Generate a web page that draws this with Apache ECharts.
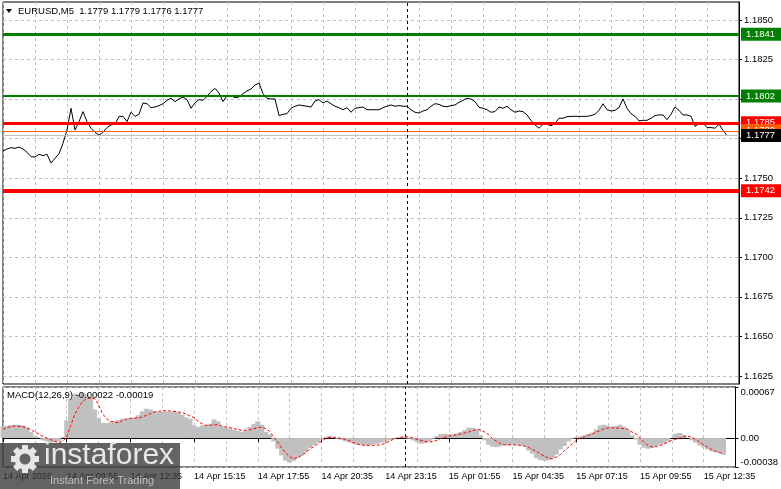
<!DOCTYPE html>
<html><head><meta charset="utf-8">
<script src="https://cdn.jsdelivr.net/npm/echarts@6/dist/echarts.min.js"></script>
<style>html,body{margin:0;padding:0;background:#fff}#c{width:781px;height:489px}</style>
</head><body><div id="c"></div>
<script>
// ---------- data ----------
const startTime = '2026-04-14T07:15:00';
const stepMinutes = 10;
const totalSlots = 185;            // visible slots incl. empty right margin
const daySeparatorTime = '2026-04-15T00:00:00';
const titleText = 'EURUSD,M5  1.1779 1.1779 1.1776 1.1777';
const macdTitleText = 'MACD(12,26,9) -0.00022 -0.00019';

const xTickLabels = ['14 Apr 2026','14 Apr 09:55','14 Apr 12:35','14 Apr 15:15','14 Apr 17:55','14 Apr 20:35',
  '14 Apr 23:15','15 Apr 01:55','15 Apr 04:35','15 Apr 07:15','15 Apr 09:55','15 Apr 12:35'];

const priceTicks = [1.1625,1.1650,1.1675,1.1700,1.1725,1.1750,1.1775,1.1800,1.1825,1.1850];
const priceMin = 1.16199, priceMax = 1.18614;

const closePrice = [
1.17672,1.17685,1.17693,1.17689,1.17697,1.17685,1.17664,1.17636,1.17634,1.17651,
1.17643,1.17651,1.17596,1.17626,1.17655,1.17721,1.17805,1.17942,1.17805,1.17858,
1.17921,1.17858,1.17816,1.17790,1.17773,1.17790,1.17820,1.17837,1.17841,1.17891,
1.17891,1.17858,1.17917,1.17891,1.17904,1.17976,1.17971,1.17946,1.17950,1.17959,
1.17971,1.17992,1.18005,1.17984,1.18001,1.18013,1.17997,1.17942,1.17976,1.17997,
1.17992,1.18018,1.18047,1.18068,1.18039,1.17984,1.18022,1.18022,1.18009,1.18013,
1.18035,1.18052,1.18064,1.18089,1.18102,1.18035,1.18005,1.18001,1.18001,1.17896,
1.17904,1.17908,1.17942,1.17955,1.17963,1.17959,1.17955,1.17950,1.17988,1.17997,
1.17976,1.17988,1.17971,1.17955,1.17946,1.17933,1.17946,1.17917,1.17942,1.17946,
1.17950,1.17933,1.17933,1.17933,1.17933,1.17946,1.17955,1.17963,1.17955,1.17959,
1.17955,1.17955,1.17933,1.17917,1.17912,1.17925,1.17933,1.17955,1.17971,1.17967,
1.17955,1.17952,1.17959,1.17963,1.17980,1.17992,1.18005,1.18001,1.17984,1.17948,
1.17942,1.17933,1.17917,1.17921,1.17950,1.17942,1.17955,1.17933,1.17917,1.17925,
1.17921,1.17900,1.17866,1.17837,1.17816,1.17841,1.17841,1.17832,1.17845,1.17879,
1.17879,1.17889,1.17891,1.17891,1.17891,1.17891,1.17891,1.17896,1.17904,1.17929,
1.17971,1.17933,1.17925,1.17929,1.17946,1.18001,1.17942,1.17908,1.17891,1.17862,
1.17866,1.17866,1.17879,1.17896,1.17900,1.17900,1.17870,1.17904,1.17950,1.17929,
1.17900,1.17900,1.17891,1.17828,1.17845,1.17849,1.17820,1.17820,1.17816,1.17841,
1.17803,1.17770];

// MACD values in units of 0.00001
const macdHistE5 = [
14.9,16.2,17.1,17.5,17.1,16.6,14.0,7.9,2.6,0.9,
-3.1,-4.4,-6.1,-5.3,-4.4,1.3,23.2,51.6,58.2,56.9,
59.5,58.2,53.8,37.6,26.3,19.7,19.7,20.6,21.9,23.6,
25.4,25.4,26.3,26.7,29.8,35.0,38.5,37.6,35.4,34.1,
34.6,35.0,34.1,35.0,33.7,30.6,27.1,25.4,16.6,14.4,
16.6,16.6,18.8,24.5,21.9,15.3,13.6,12.3,10.5,9.2,
7.9,9.6,14.4,18.4,21.9,17.5,7.9,4.4,-4.4,-14.0,
-22.8,-29.8,-32.4,-29.8,-26.3,-22.8,-18.4,-13.1,-9.6,-6.1,
-1.8,1.3,2.6,1.3,-0.9,-2.6,-4.4,-5.7,-7.0,-8.8,
-8.8,-9.6,-9.2,-8.3,-7.4,-6.1,-4.4,-3.1,-0.9,0,
0.9,1.3,-0.9,-3.1,-5.3,-7.4,-6.6,-4.4,-0.9,2.6,
5.3,5.7,4.8,4.8,6.1,7.9,10.5,13.6,13.1,11.4,
3.5,-3.1,-8.8,-11.4,-11.8,-10.5,-9.6,-9.6,-8.8,-8.8,
-9.6,-10.5,-16.2,-20.6,-26.3,-28.9,-29.8,-29.3,-26.3,-21.9,
-14.9,-10.5,-4.4,-0.9,1.3,2.2,3.5,5.3,7.0,11.4,
16.6,17.5,15.8,14.4,15.8,17.5,14.9,10.1,3.5,-1.8,
-8.8,-12.7,-14.0,-13.1,-10.1,-8.8,-7.4,-4.4,0,5.7,
6.6,4.4,0,-3.1,-6.1,-9.6,-12.3,-14.9,-17.5,-18.4,
-19.3,-21.9];
const macdSignalE5 = [
11.4,13.6,14.9,15.8,15.3,14.9,13.1,10.9,7.9,5.3,
2.2,0,-2.2,-4.4,-6.1,-4.4,1.3,16.6,30.6,40.3,
48.1,51.6,52.5,51.6,43.8,31.9,25.4,21.9,21.0,20.1,
22.8,24.9,25.8,26.3,26.3,27.6,29.8,31.9,34.1,35.0,
35.9,35.9,35.4,35.0,34.1,33.3,31.5,28.9,26.7,21.9,
18.8,16.6,16.6,17.5,17.5,15.8,14.4,13.6,12.3,11.4,
10.1,10.1,10.9,12.3,13.6,14.4,12.3,8.8,1.3,-5.3,
-13.1,-19.3,-24.5,-27.1,-25.8,-22.8,-19.3,-14.9,-11.4,-7.9,
-3.9,-0.9,0.9,1.3,0.4,-0.4,-1.8,-3.5,-6.1,-7.9,
-9.2,-9.6,-9.6,-9.6,-9.2,-8.8,-7.0,-4.4,-1.8,0,
1.3,1.8,1.3,0,-1.8,-3.1,-4.4,-5.3,-4.4,-3.1,
-0.4,1.3,2.6,3.5,4.4,5.3,6.6,7.9,9.6,11.4,
10.5,7.9,4.4,-0.9,-4.4,-7.4,-8.8,-8.8,-8.8,-9.2,
-9.6,-10.5,-12.3,-14.9,-17.5,-21.0,-23.6,-26.3,-27.1,-25.0,
-21.9,-16.6,-12.3,-7.4,-3.1,0,1.8,3.5,5.3,7.9,
9.6,12.3,13.1,13.6,13.1,13.1,12.3,11.4,7.9,5.3,
0,-5.3,-9.6,-11.8,-10.9,-10.1,-7.9,-5.3,-3.1,-1.8,
0,1.8,2.6,0.9,-1.8,-5.3,-8.8,-11.8,-14.9,-17.5,
-19.3,-19.7];
const macdTicksE5 = [-38, 0, 67];
const macdMinE5 = -38, macdMaxE5 = 67;

const levelValues = [1.1841, 1.1802, 1.1785, 1.1780, 1.1742];
const bidValue = 1.1777;

// ---------- styles ----------
const FONT = '"Liberation Sans",Arial,sans-serif';
const FS = 9.5;
const levelStyles = [
  {color:'#008000', width:3},
  {color:'#008000', width:2},
  {color:'#ff0000', width:3},
  {color:'#ff5a00', width:1},
  {color:'#ff0000', width:4}
];
const GRID_COLOR = '#c0c0c0';

// ---------- build ----------
const MON = ['Jan','Feb','Mar','Apr','May','Jun','Jul','Aug','Sep','Oct','Nov','Dec'];
const t0 = new Date(startTime).getTime();
const pad = n => (n < 10 ? '0' : '') + n;
const categories = [];
for (let i = 0; i < totalSlots; i++) {
  const d = new Date(t0 + i * stepMinutes * 60000);
  categories.push(d.getDate() + ' ' + MON[d.getMonth()] + ' ' + pad(d.getHours()) + ':' + pad(d.getMinutes()));
}
const sepIndex = (new Date(daySeparatorTime).getTime() - t0) / (stepMinutes * 60000);
const macdHist = macdHistE5.map(v => v / 1e5);
const macdSignal = macdSignalE5.map(v => v / 1e5);

const boxLabel = (bg) => ({
  show: true, position: 'end', distance: 2,
  formatter: p => Number(p.value).toFixed(4),
  color: '#fff', backgroundColor: bg, padding: [2, 2, 1, 5], width: 33,
  fontSize: FS, lineHeight: 10, fontFamily: FONT
});

const levelMarks = levelValues.map((v, k) => ({
  yAxis: v,
  lineStyle: {color: levelStyles[k].color, width: levelStyles[k].width, type: 'solid'},
  label: boxLabel(levelStyles[k].color)
}));
levelMarks.push({yAxis: bidValue, lineStyle: {color: '#c0c0c0', width: 1, type: 'solid'}, label: boxLabel('#000')});

const sepMark = {xAxis: sepIndex, lineStyle: {color: '#000', width: 1, type: [3, 3]}, label: {show: false}};

const axisFont = {fontSize: FS, fontFamily: FONT, color: '#000'};

const chart = echarts.init(document.getElementById('c'), null, {renderer: 'canvas'});

// watermark gear teeth
const gearCx = 25, gearCy = 459;
const teeth = [];
for (let k = 0; k < 8; k++) {
  teeth.push({
    type: 'rect', shape: {x: gearCx - 3, y: gearCy - 14, width: 6, height: 6},
    originX: gearCx, originY: gearCy, rotation: k * Math.PI / 4, style: {fill: '#e6e6e6'}, z: 101
  });
}

chart.setOption({
  animation: false,
  backgroundColor: '#fff',
  grid: [
    {left: 3, top: 2, width: 736, height: 382, show: true, borderColor: '#000', borderWidth: 1, containLabel: false},
    {left: 3, top: 387, width: 736, height: 80, show: true, borderColor: '#000', borderWidth: 1, containLabel: false}
  ],
  xAxis: [
    {type: 'category', gridIndex: 0, data: categories, boundaryGap: false,
     axisLine: {show: false}, axisTick: {show: false}, axisLabel: {show: false},
     splitLine: {show: true, interval: 7, lineStyle: {color: GRID_COLOR, type: [3, 3], width: 1}}},
    {type: 'category', gridIndex: 1, data: categories, boundaryGap: false,
     axisLine: {show: true, lineStyle: {color: '#000'}},
     axisTick: {show: true, interval: 15, length: 4, lineStyle: {color: '#000'}},
     axisLabel: Object.assign({interval: 15, align: 'left', margin: 5, fontSize: 9,
       formatter: (v, idx) => (idx % 16 === 0 ? xTickLabels[idx / 16] || '' : '')}, {fontFamily: FONT, color: '#000'}),
     splitLine: {show: true, interval: 7, lineStyle: {color: GRID_COLOR, type: [3, 3], width: 1}}}
  ],
  yAxis: [
    {type: 'value', gridIndex: 0, position: 'right', min: priceMin, max: priceMax, scale: true,
     axisLine: {show: true, lineStyle: {color: '#000'}},
     axisTick: {show: true, length: 3, customValues: priceTicks, lineStyle: {color: '#000'}},
     axisLabel: Object.assign({customValues: priceTicks, margin: 5, formatter: v => v.toFixed(4)}, axisFont),
     splitLine: {show: true, lineStyle: {color: GRID_COLOR, type: [3, 3], width: 1}}},
    {type: 'value', gridIndex: 1, position: 'right', min: macdMinE5 / 1e5, max: macdMaxE5 / 1e5,
     axisLine: {show: true, lineStyle: {color: '#000'}},
     axisTick: {show: true, length: 3, customValues: macdTicksE5.map(v => v / 1e5), lineStyle: {color: '#000'}},
     axisLabel: Object.assign({customValues: macdTicksE5.map(v => v / 1e5), margin: 5,
       verticalAlignMaxLabel: 'top', verticalAlignMinLabel: 'bottom',
       formatter: v => (Math.abs(v) < 1e-9 ? '0.00' : v.toFixed(5))}, axisFont),
     splitLine: {show: true, lineStyle: {color: GRID_COLOR, type: [3, 3], width: 1}}}
  ],
  series: [
    {type: 'line', name: 'EURUSD', xAxisIndex: 0, yAxisIndex: 0, data: closePrice,
     showSymbol: false, symbol: 'none', lineStyle: {color: '#000', width: 1}, z: 3,
     markLine: {silent: true, precision: 5, symbol: ['none', 'none'], animation: false, data: levelMarks.concat([sepMark])}},
    {type: 'bar', name: 'MACD', xAxisIndex: 1, yAxisIndex: 1, data: macdHist,
     itemStyle: {color: '#c0c0c0'}, barCategoryGap: '0%', barWidth: 5},
    {type: 'line', name: 'Signal', xAxisIndex: 1, yAxisIndex: 1, data: macdSignal,
     showSymbol: false, symbol: 'none', lineStyle: {color: '#ff0000', width: 1, type: [3, 2]}, z: 4,
     markLine: {silent: true, precision: 5, symbol: ['none', 'none'], animation: false, data: [sepMark]}}
  ],
  graphic: [
    {type: 'polygon', shape: {points: [[6, 9], [12, 9], [9, 13]]}, style: {fill: '#000'}, z: 50},
    {type: 'text', x: 18, y: 6, style: {text: titleText, font: FS + 'px ' + FONT, fill: '#000'}, z: 50},
    {type: 'text', x: 7, y: 390, style: {text: macdTitleText, font: FS + 'px ' + FONT, fill: '#000'}, z: 50},
    {type: 'rect', shape: {x: 0, y: 443, width: 180, height: 46}, style: {fill: 'rgba(55,55,55,0.78)'}, z: 100},
    {type: 'circle', shape: {cx: gearCx, cy: gearCy, r: 8}, style: {fill: 'none', stroke: '#e6e6e6', lineWidth: 5}, z: 101},
    ...teeth,
    {type: 'text', x: 44, y: 441, style: {text: 'instaforex', font: '30px "Liberation Sans",Arial,sans-serif', fill: '#e8e8e8'}, z: 101},
    {type: 'text', x: 50, y: 475, style: {text: 'Instant Forex Trading', font: '11px "Liberation Sans",Arial,sans-serif', fill: '#bdbdbd'}, z: 101}
  ]
});
</script></body></html>
